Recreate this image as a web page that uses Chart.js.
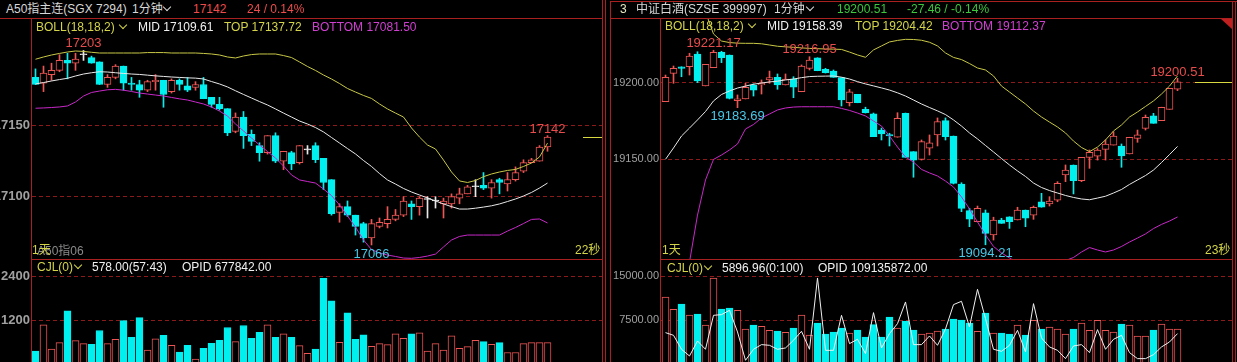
<!DOCTYPE html>
<html>
<head>
<meta charset="utf-8">
<script src="https://cdn.jsdelivr.net/npm/chart.js@4.4.1/dist/chart.umd.min.js"></script>
<style>
body{margin:0;background:#000;width:1237px;height:362px;overflow:hidden;position:relative;font-family:"Liberation Sans","Noto Sans CJK SC",sans-serif}
canvas{position:absolute}
.t{position:absolute;white-space:pre;font-size:12px;line-height:14px}
.l{position:absolute;background:#a82020}
.chev{position:absolute;width:5px;height:5px;border-right:1px solid;border-bottom:1px solid;transform:rotate(45deg)}
</style>
</head>
<body>
<canvas id="lMain" width="602" height="242" style="left:0;top:18px"></canvas>
<canvas id="lVol" width="602" height="102" style="left:0;top:260px"></canvas>
<canvas id="rMain" width="621" height="242" style="left:611px;top:18px"></canvas>
<canvas id="rVol" width="621" height="102" style="left:611px;top:260px"></canvas>
<script>
// ---- A50 left panel data ----
const leftOpen = [17184,17180,17186,17189,17196,17194,17200,17198,17195,17179,17184,17192,17180,17179,17175,17181,17182,17174,17182,17178,17177,17179,17170,17165,17162,17146,17156,17144,17136,17131,17143,17125,17131,17124,17133,17136,17127,17112,17089,17093,17087,17081,17071,17079,17081,17084,17087,17095,17093,17098,17097,17095,17095,17099,17102,17107,17108,17106,17112,17109,17112,17118,17124,17125,17135];
const leftHigh = [17190,17192,17194,17200,17201,17201,17203,17199,17195,17186,17193,17192,17184,17182,17182,17186,17182,17183,17183,17184,17181,17184,17170,17170,17162,17159,17160,17147,17138,17143,17145,17132,17132,17136,17136,17138,17127,17112,17095,17097,17087,17082,17084,17085,17093,17091,17100,17097,17100,17100,17100,17099,17102,17106,17108,17112,17117,17112,17113,17117,17121,17126,17127,17136,17143];
const leftLow = [17179,17174,17182,17188,17183,17189,17196,17194,17179,17177,17183,17175,17175,17170,17174,17175,17163,17173,17175,17174,17175,17169,17163,17161,17143,17145,17134,17136,17125,17130,17124,17119,17119,17123,17130,17124,17105,17087,17082,17086,17073,17068,17066,17078,17078,17083,17086,17084,17087,17085,17092,17085,17092,17095,17102,17100,17105,17099,17102,17104,17111,17117,17124,17125,17132];
const leftClose = [17179,17187,17189,17196,17194,17197,17200,17194,17179,17184,17192,17180,17179,17175,17181,17182,17172,17182,17179,17175,17179,17169,17165,17162,17145,17156,17143,17139,17131,17143,17125,17132,17123,17136,17133,17126,17110,17088,17093,17087,17079,17071,17081,17082,17084,17087,17097,17093,17099,17098,17097,17097,17100,17102,17107,17107,17106,17110,17110,17112,17117,17124,17126,17135,17142];
const leftTop = [17196.8,17198.4,17199.8,17200.9,17201.9,17202.6,17202.3,17201.7,17201.2,17201.2,17201.2,17201.2,17201.2,17201.2,17201.5,17201.5,17201.5,17201.2,17201.2,17201.2,17201.2,17200.9,17200.5,17199.8,17198.4,17197.7,17199.1,17200.1,17200.5,17200.5,17200.5,17199.4,17198.0,17194.9,17191.7,17188.9,17185.7,17182.9,17179.7,17176.2,17173.7,17171.3,17169.2,17165.3,17161.8,17158.9,17156.1,17148.4,17142.0,17136.4,17133.6,17125.8,17117.4,17111.1,17110.0,17111.4,17114.1,17116.0,17117.4,17118.5,17119.2,17121.3,17123.7,17128.0,17137.72];
const leftMid = [17179.4,17180.4,17181.5,17182.5,17183.4,17185.0,17186.4,17187.3,17188.0,17187.8,17187.3,17186.8,17186.4,17186.1,17185.6,17185.1,17184.7,17184.3,17184.0,17183.7,17183.5,17182.9,17181.1,17179.4,17177.3,17174.6,17172.0,17169.5,17167.0,17164.6,17161.8,17158.9,17156.1,17153.3,17151.2,17148.7,17145.6,17141.7,17137.8,17133.9,17130.1,17125.5,17121.3,17116.3,17111.8,17108.9,17105.8,17103.3,17101.2,17099.1,17097.0,17094.9,17093.0,17091.3,17091.3,17091.9,17092.7,17093.6,17094.9,17096.6,17098.4,17100.5,17103.0,17106.1,17109.61];
const leftBot = [17162.3,17162.5,17162.8,17163.2,17163.9,17166.7,17170.9,17173.4,17174.4,17175.3,17175.6,17175.0,17174.1,17173.0,17172.3,17171.6,17170.9,17169.9,17168.9,17168.1,17166.7,17165.3,17163.2,17160.3,17156.8,17151.2,17146.3,17141.3,17136.4,17131.8,17127.2,17121.6,17115.3,17111.8,17110.7,17109.6,17105.4,17100.8,17094.2,17086.4,17078.6,17069.5,17062.8,17060.4,17058.9,17057.9,17056.8,17056.6,17057.2,17058.2,17059.6,17064.6,17069.5,17072.0,17073.0,17073.0,17073.0,17073.0,17073.0,17075.8,17078.3,17081.1,17084.0,17084.3,17081.5];
const leftVol = [358,1075,412,591,1460,645,564,546,922,564,681,1191,734,1272,385,698,788,519,331,519,143,439,573,654,1003,618,1057,707,869,1075,734,833,734,510,296,412,2346,1728,600,1406,681,806,492,564,537,833,707,833,860,358,564,385,779,439,484,654,618,546,591,322,322,564,591,591,591];
const leftTicks = [17100, 17150];
const leftVolTicks = [1200, 2400];

// ---- 中证白酒 right panel data ----
const rightOpen = [19187.6,19206.1,19210.4,19210.4,19218.7,19197.9,19209.8,19219.8,19218.1,19188.3,19189.4,19198.5,19198.5,19201.8,19203.5,19198.5,19202.4,19194.1,19209.4,19216.3,19208.8,19207.6,19203.3,19186.9,19192.4,19182.6,19179.6,19169.1,19166.2,19164.4,19180.0,19155.0,19150.0,19157.2,19165.9,19175.2,19165.2,19133.9,19116.5,19109.3,19115.1,19100.6,19110.4,19112.5,19110.4,19116.9,19113.6,19122.3,19120.8,19123.4,19139.8,19146.3,19136.0,19151.3,19152.0,19156.5,19159.3,19158.7,19153.5,19163.7,19170.2,19178.3,19175.2,19182.6,19195.7];
const rightHigh = [19205.0,19210.9,19210.4,19219.2,19220.2,19212.0,19221.17,19220.5,19218.1,19192.0,19199.6,19199.2,19201.8,19207.6,19205.7,19205.7,19203.9,19211.6,19216.95,19216.3,19209.4,19208.3,19203.3,19195.7,19192.4,19184.0,19180.2,19170.4,19167.0,19180.4,19180.2,19155.0,19162.6,19165.9,19177.0,19177.0,19165.2,19134.7,19118.0,19119.5,19116.9,19112.2,19111.5,19112.5,19118.7,19116.9,19119.5,19127.8,19125.6,19135.4,19146.3,19146.3,19151.3,19156.1,19157.0,19162.6,19168.0,19160.0,19164.4,19169.1,19178.9,19180.0,19184.0,19196.3,19202.9];
const rightLow = [19187.6,19199.6,19203.9,19205.0,19200.0,19197.9,19209.8,19213.1,19189.4,19183.69,19189.4,19191.3,19192.6,19199.6,19195.7,19198.5,19190.2,19194.1,19208.3,19207.8,19206.3,19203.5,19184.8,19184.8,19186.9,19180.2,19164.8,19162.6,19158.7,19164.4,19151.3,19138.3,19149.5,19152.8,19158.7,19162.6,19133.9,19115.8,19106.0,19109.3,19094.21,19097.3,19108.2,19104.9,19110.4,19106.0,19110.8,19118.7,19119.5,19122.3,19135.4,19127.4,19135.4,19144.1,19149.5,19149.5,19159.3,19144.8,19153.5,19161.1,19169.1,19173.5,19175.2,19182.6,19194.8];
const rightClose = [19203.5,19209.4,19209.4,19217.4,19201.1,19212.0,19219.8,19216.3,19189.8,19189.4,19197.0,19195.2,19199.6,19203.3,19198.5,19202.4,19197.0,19210.9,19214.8,19207.8,19206.5,19203.5,19188.7,19194.1,19186.9,19180.4,19164.8,19166.5,19165.2,19176.8,19151.3,19149.5,19161.5,19160.8,19174.6,19164.8,19134.3,19118.0,19110.9,19118.0,19101.7,19110.4,19108.2,19109.3,19116.9,19111.5,19118.7,19118.7,19122.8,19134.3,19143.0,19136.0,19151.3,19154.6,19156.0,19160.0,19165.2,19152.2,19164.4,19165.9,19177.4,19173.5,19184.0,19196.3,19200.51];
const rightTop = [19384.5,19351.9,19319.3,19293.1,19267.0,19246.2,19231.8,19227.2,19226.2,19225.8,19225.7,19225.7,19225.4,19224.6,19223.8,19223.4,19223.1,19222.7,19222.4,19222.2,19222.0,19221.9,19221.7,19220.0,19218.1,19216.6,19221.4,19224.0,19226.6,19227.6,19228.3,19228.2,19227.7,19226.4,19224.0,19219.4,19216.5,19215.1,19212.5,19209.6,19208.3,19204.4,19197.8,19193.9,19190.0,19186.1,19181.5,19177.6,19174.3,19171.1,19167.2,19161.9,19157.7,19155.0,19158.0,19162.6,19168.5,19172.4,19177.6,19180.9,19184.5,19188.1,19192.6,19197.8,19204.42];
const rightMid = [19150.0,19157.4,19165.2,19170.4,19175.7,19181.2,19188.1,19192.3,19194.6,19196.5,19197.8,19199.0,19199.8,19200.5,19201.0,19201.8,19202.4,19203.3,19204.0,19204.2,19204.3,19204.4,19203.6,19202.4,19200.7,19199.2,19197.9,19196.6,19195.2,19193.4,19191.3,19188.7,19186.1,19183.8,19181.6,19179.2,19175.7,19171.7,19167.2,19163.3,19159.0,19154.8,19150.5,19146.3,19142.4,19138.8,19134.5,19131.6,19129.6,19128.0,19126.4,19125.1,19124.1,19123.6,19124.7,19125.9,19128.0,19130.3,19133.6,19136.5,19139.4,19143.0,19147.9,19153.1,19158.39];
const rightBot = [18862.4,18960.3,19038.6,19082.9,19113.6,19136.5,19149.9,19152.8,19156.1,19160.0,19169.8,19172.7,19177.0,19179.6,19182.2,19183.5,19184.1,19184.3,19184.3,19184.3,19184.3,19184.3,19183.2,19181.9,19180.2,19178.3,19175.0,19171.7,19165.2,19158.0,19151.5,19148.2,19143.4,19141.1,19139.1,19135.8,19131.9,19125.4,19117.6,19109.1,19100.6,19093.1,19088.9,19085.6,19082.3,19079.7,19077.7,19077.1,19078.4,19081.0,19083.9,19085.9,19089.5,19092.4,19090.8,19089.5,19090.8,19093.1,19096.0,19098.6,19101.3,19104.8,19107.5,19109.7,19112.37];
const rightVol = [11477,9375,10284,8409,8580,6705,14716,9432,9602,9205,6023,6705,6477,5795,5682,5455,6193,8409,5000,7045,5170,5511,6193,5341,5852,4659,6761,4659,8068,6193,7386,5852,5170,5341,5682,6023,7727,7557,7045,5625,8750,5341,5341,5170,6705,5000,7500,6023,6364,6023,5170,6023,7045,5795,7500,5795,5511,6875,6705,4830,4830,5852,6875,6023,6023];
const rightVolLine = [5398,4943,2557,1420,3977,2557,8352,8466,9205,5511,682,2557,3352,3239,2557,2784,4091,5625,2557,14716,2386,2386,8352,3523,4261,1818,8807,2784,5227,6932,10625,3352,3352,4830,3239,6023,10170,10739,6364,12784,7784,2557,2216,3239,5795,2102,10341,4489,2955,2386,966,3125,3352,1989,5909,2557,4261,4943,1989,966,966,1648,2955,3807,5227];
const rightTicks = [19150, 19200];
const rightVolTicks = [7500, 15000];

const RED = '#ee5555', CYAN = '#00f0f0', WHITE = '#e8e8e8', YEL = '#c8c846', MAG = '#c828c8';
const GRID = '#8c1a1a', AXIS = '#a0a0a0';
Chart.defaults.font.family = '"Liberation Sans", sans-serif';

function axisY(min, max, ticks, fmt, w, font) {
  return {
    type: 'linear', position: 'left', min, max,
    afterBuildTicks: a => { a.ticks = ticks.map(v => ({ value: v })); },
    // fixed axis width, and no label padding so the plot fills the canvas height
    afterFit: a => { a.width = w; a.paddingTop = 0; a.paddingBottom = 0; },
    grid: { color: GRID, drawTicks: false },
    border: { display: false, dash: [4, 3] },
    ticks: { color: AXIS, font, padding: 2, autoSkip: false, callback: v => fmt(v) }
  };
}

function baseOpts(xmin, xmax, y) {
  return {
    responsive: false, animation: false, devicePixelRatio: 1, events: [],
    layout: { padding: 0, autoPadding: false },
    plugins: { legend: { display: false }, tooltip: { enabled: false } },
    scales: { x: { type: 'linear', min: xmin, max: xmax, display: false, offset: false }, y }
  };
}

function lineSet(arr, color) {
  return { type: 'line', data: arr.map((v, i) => ({ x: i, y: v })), borderColor: color, borderWidth: 1, pointRadius: 0, tension: 0, order: 0 };
}

function candleSets(o, h, l, c) {
  const col = c.map((v, i) => v === o[i] ? WHITE : (v > o[i] ? RED : CYAN));
  const fill = c.map((v, i) => v === o[i] ? WHITE : (v > o[i] ? '#000' : CYAN));
  return [
    { type: 'bar', data: o.map((v, i) => ({ x: i, y: [v, c[i]] })), backgroundColor: fill, borderColor: col,
      borderWidth: 1, borderSkipped: false, barThickness: 7, grouped: false, minBarLength: 1, order: 1 },
    { type: 'bar', data: l.map((v, i) => ({ x: i, y: [v, h[i]] })), backgroundColor: col,
      borderWidth: 0, barThickness: 1, grouped: false, order: 2 }
  ];
}

function volSet(vol, o, c) {
  const up = c.map((v, i) => v >= o[i]);
  return { type: 'bar', data: vol.map((v, i) => ({ x: i, y: v })), backgroundColor: up.map(u => u ? '#000' : CYAN),
    borderColor: up.map(u => u ? RED : CYAN), borderWidth: 1, borderSkipped: false, barThickness: 7, grouped: false, order: 1 };
}

// high / low / last price labels and the short price marker
function marks(m) {
  return {
    id: 'marks',
    afterDatasetsDraw(chart) {
      const { ctx, chartArea: a, scales: { x, y } } = chart;
      const k = m.c.length - 1;
      ctx.save();
      ctx.font = '13px "Liberation Sans"';
      ctx.textAlign = 'center';
      ctx.textBaseline = 'middle';
      ctx.fillStyle = '#e84c4c';
      m.highs.forEach(i => ctx.fillText(m.h[i].toFixed(m.d), x.getPixelForValue(i), y.getPixelForValue(m.h[i]) - 7));
      ctx.fillText(m.c[k].toFixed(m.d), x.getPixelForValue(k), y.getPixelForValue(m.h[k]) - 6);
      ctx.fillStyle = '#48c8e8';
      m.lows.forEach(i => ctx.fillText(m.l[i].toFixed(m.d), x.getPixelForValue(i), y.getPixelForValue(m.l[i]) + 9));
      const py = Math.round(y.getPixelForValue(m.c[k])) + 0.5;
      ctx.strokeStyle = '#d8d840';
      ctx.lineWidth = 1;
      ctx.beginPath();
      ctx.moveTo(a.right - m.mark, py);
      ctx.lineTo(a.right, py);
      ctx.stroke();
      ctx.restore();
    }
  };
}

const bigFont = { size: 13, weight: 'bold' };
const smallFont = { size: 11 };

new Chart(document.getElementById('lMain'), {
  type: 'bar',
  data: { datasets: [lineSet(leftTop, YEL), lineSet(leftMid, WHITE), lineSet(leftBot, MAG), ...candleSets(leftOpen, leftHigh, leftLow, leftClose)] },
  options: baseOpts(-0.4375, 70.8125, axisY(17055.42, 17225.85, leftTicks, v => String(v), 32, bigFont)),
  plugins: [marks({ h: leftHigh, l: leftLow, c: leftClose, highs: [6], lows: [42], d: 0, mark: 19 })]
});

new Chart(document.getElementById('lVol'), {
  type: 'bar',
  data: { datasets: [volSet(leftVol, leftOpen, leftClose)] },
  options: baseOpts(-0.4375, 70.8125, axisY(62.8, 2844.5, leftVolTicks, v => String(v), 32, bigFont))
});

new Chart(document.getElementById('rMain'), {
  type: 'bar',
  data: { datasets: [lineSet(rightTop, YEL), lineSet(rightMid, WHITE), lineSet(rightBot, MAG), ...candleSets(rightOpen, rightHigh, rightLow, rightClose)] },
  options: baseOpts(-0.5625, 70.8125, axisY(19084.27, 19242.23, rightTicks, v => v.toFixed(2), 50, smallFont)),
  plugins: [marks({ h: rightHigh, l: rightLow, c: rightClose, highs: [6, 18], lows: [9, 40], d: 2, mark: 37 })]
});

new Chart(document.getElementById('rVol'), {
  type: 'bar',
  data: { datasets: [lineSet(rightVolLine, '#f0f0f0'), volSet(rightVol, rightOpen, rightClose)] },
  options: baseOpts(-0.5625, 70.8125, axisY(392, 17778, rightVolTicks, v => v.toFixed(2), 50, smallFont))
});

// panel frames
[[0,18,602,1],[32,259,570,1],[31,18,1,344],[602,0,1,362],[605,0,1,362],
 [610,1,627,1],[610,1,1,361],[611,18,621,1],[661,259,571,1],[660,18,1,344],
 [1232,1,1,361],[1235,1,1,361]].forEach(([x, y, w, h]) => {
  const d = document.createElement('div');
  d.className = 'l';
  d.style.cssText = `left:${x}px;top:${y}px;width:${w}px;height:${h}px`;
  document.body.appendChild(d);
});
const tri = document.createElement('div');
tri.style.cssText = 'position:absolute;left:1221px;top:19px;width:0;height:0;border-top:10px solid #c02020;border-left:11px solid transparent';
document.body.appendChild(tri);

function put(s, x, cy, color) {
  const d = document.createElement('div');
  d.className = 't';
  d.textContent = s;
  d.style.left = x + 'px';
  d.style.top = (cy - 7) + 'px';
  d.style.color = color;
  document.body.appendChild(d);
}
function chev(x, cy, color) {
  const d = document.createElement('div');
  d.className = 'chev';
  d.style.left = x + 'px';
  d.style.top = (cy - 5) + 'px';
  d.style.color = color;
  document.body.appendChild(d);
}

const last = a => a[a.length - 1];
const GREY = '#d8d8d8', LY = '#d4d44a', LM = '#d040d0', GREEN = '#3cc83c', TRED = '#ee4c4c';

// left titles
put('A50指主连(SGX 7294)', 6, 9, GREY);
put('1分钟', 132, 9, GREY); chev(164, 9, GREY);
put(String(last(leftClose)), 193, 9, TRED);
put('24 / 0.14%', 247, 9, TRED);
put('BOLL(18,18,2)', 36, 27, LY); chev(120, 27, LY);
put('MID ' + last(leftMid).toFixed(2), 138, 27, '#f0f0f0');
put('TOP ' + last(leftTop).toFixed(2), 224, 27, LY);
put('BOTTOM ' + last(leftBot).toFixed(2), 312, 27, LM);
put('A50指06', 37, 251, '#8a8a8a');
put('1天', 32, 250, LY);
put('22秒', 575, 250, LY);
put('CJL(0)', 37, 267, LY); chev(75, 267, LY);
put('578.00(57:43)', 92, 267, '#f0f0f0');
put('OPID 677842.00', 182, 267, '#f0f0f0');

// right titles
put('3', 620, 9, '#e8e8c0');
put('中证白酒(SZSE 399997)', 636, 9, GREY);
put('1分钟', 774, 9, GREY); chev(807, 9, GREY);
put(last(rightClose).toFixed(2), 837, 9, GREEN);
put('-27.46 / -0.14%', 907, 9, GREEN);
put('BOLL(18,18,2)', 665, 26, LY); chev(749, 26, LY);
put('MID ' + last(rightMid).toFixed(2), 767, 26, '#f0f0f0');
put('TOP ' + last(rightTop).toFixed(2), 855, 26, LY);
put('BOTTOM ' + last(rightBot).toFixed(2), 942, 26, LM);
put('1天', 662, 250, LY);
put('23秒', 1205, 250, LY);
put('CJL(0)', 667, 268, LY); chev(705, 268, LY);
put('5896.96(0:100)', 722, 268, '#f0f0f0');
put('OPID 109135872.00', 818, 268, '#f0f0f0');
</script>
</body>
</html>
